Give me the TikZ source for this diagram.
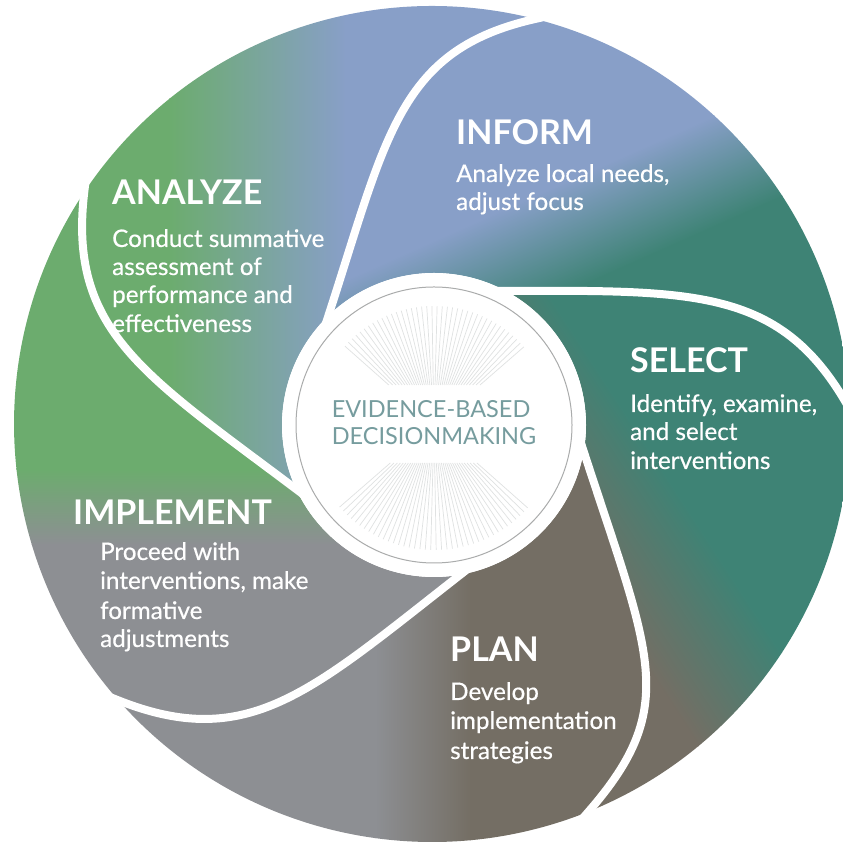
\documentclass[tikz,border=0pt]{standalone}
\usepackage{fontspec}
\setmainfont{Lato}
\newfontfamily\bodyfont{Lato}[FakeBold=0.5]
\usetikzlibrary{calc}
\definecolor{cGreen}{RGB}{108,172,110}
\definecolor{cBlue}{RGB}{136,159,200}
\definecolor{cTeal}{RGB}{62,131,117}
\definecolor{cBrown}{RGB}{116,110,100}
\definecolor{cGrey}{RGB}{141,143,147}
\definecolor{cText}{RGB}{118,156,158}
\definecolor{cRay}{RGB}{224,226,226}
\definecolor{cRing}{RGB}{170,172,172}
\tikzset{
  head/.style={anchor=base west, inner sep=0pt, text=white, font=\fontsize{34}{34}\selectfont\bfseries},
  body/.style={anchor=base west, inner sep=0pt, text=white, font=\bodyfont\fontsize{24.2}{28}\selectfont},
  ctr/.style={anchor=base, inner sep=0pt, text=cText, font=\fontsize{23.5}{27}\selectfont},
  sep/.style={draw=white, line width=8pt},
  ray/.style={draw=cRay, line width=0.7pt}
}
\begin{document}
\begin{tikzpicture}[x=1pt,y=1pt]
\useasboundingbox (0,0) rectangle (843,842);
\coordinate (Ci) at (434,417);
\coordinate (Co) at (432,418);
\foreach \k/\s/\e/\la in {1/134/75.7/190, 2/62/2/190, 3/-10/-68/215, 4/-80/-138.6/190, 5/205/146.3/190}{
  \coordinate (S\k) at ($(Ci)+(\s:152)$);
  \coordinate (S0\k) at ($(S\k)+({\s-62+180}:12)$);
  \coordinate (A\k) at ($(S\k)+({\s-62}:\la)$);
  \coordinate (E\k) at ($(Co)+(\e:418)$);
  \coordinate (EE\k) at ($(E\k)+({\e-63}:14)$);
  \coordinate (B\k) at ($(E\k)+({\e+117}:140)$);
}
\def\pANALYZE{(S5) .. controls (A5) and (B5) .. (E5) arc[start angle=146.3, end angle=75.7, radius=418] .. controls (B1) and (A1) .. (S1) arc[start angle=134, end angle=205, radius=152] -- cycle}
\def\pINFORM{(S1) .. controls (A1) and (B1) .. (E1) arc[start angle=75.7, end angle=2, radius=418] .. controls (B2) and (A2) .. (S2) arc[start angle=62, end angle=134, radius=152] -- cycle}
\def\pSELECT{(S2) .. controls (A2) and (B2) .. (E2) arc[start angle=2, end angle=-68, radius=418] .. controls (B3) and (A3) .. (S3) arc[start angle=-10, end angle=62, radius=152] -- cycle}
\def\pPLAN{(S3) .. controls (A3) and (B3) .. (E3) arc[start angle=-68, end angle=-138.6, radius=418] .. controls (B4) and (A4) .. (S4) arc[start angle=-80, end angle=-10, radius=152] -- cycle}
\def\pIMPL{(S4) .. controls (A4) and (B4) .. (E4) arc[start angle=-138.6, end angle=-213.7, radius=418] .. controls (B5) and (A5) .. (S5) arc[start angle=205, end angle=280, radius=152] -- cycle}

% ANALYZE petal
\begin{scope}
  \clip \pANALYZE;
  \fill[cGreen] (0,0) rectangle (170,842);
  \shade[left color=cGreen, right color=cBlue] (169,0) rectangle (346,842);
  \fill[cBlue] (345,0) rectangle (843,842);
\end{scope}
% INFORM petal
\begin{scope}
  \clip \pINFORM;
  \begin{scope}[transform canvas={shift={(660,647)}, rotate=24}]
    \fill[cTeal] (-1200,-1200) rectangle (1200,-50);
    \shade[bottom color=cTeal, top color=cBlue] (-1200,-51) rectangle (1200,51);
    \fill[cBlue] (-1200,50) rectangle (1200,1200);
  \end{scope}
\end{scope}
% SELECT petal
\begin{scope}
  \clip \pSELECT;
  \begin{scope}[transform canvas={shift={(695,212)}, rotate=-57}]
    \fill[cBrown] (-1200,-1200) rectangle (1200,-60);
    \shade[bottom color=cBrown, top color=cTeal] (-1200,-61) rectangle (1200,61);
    \fill[cTeal] (-1200,60) rectangle (1200,1200);
  \end{scope}
\end{scope}
% PLAN petal
\begin{scope}
  \clip \pPLAN;
  \fill[cGrey] (0,0) rectangle (376,842);
  \shade[left color=cGrey, right color=cBrown] (375,0) rectangle (471,842);
  \fill[cBrown] (470,0) rectangle (843,842);
\end{scope}
% IMPLEMENT petal
\begin{scope}
  \clip \pIMPL;
  \fill[cGrey] (0,0) rectangle (843,298);
  \shade[bottom color=cGrey, top color=cGreen] (0,297) rectangle (843,373);
  \fill[cGreen] (0,372) rectangle (843,842);
\end{scope}

% white separators
\foreach \k in {1,...,5}{
  \path[sep] (S0\k) -- (S\k) .. controls (A\k) and (B\k) .. (E\k) -- (EE\k);
}
% centre
\fill[white] (Ci) circle (152);
\draw[cRing, line width=1pt] (Ci) circle (138);
\foreach \a in {41,43.5,...,139.5}{
  \path[ray] ($(Ci)+(\a:{40/sin(\a)})$) -- ($(Ci)+(\a:119)$);
}
\foreach \a in {221,223.5,...,319.5}{
  \path[ray] ($(Ci)+(\a:{-38/sin(\a)})$) -- ($(Ci)+(\a:125)$);
}
\node[ctr] (c1) at (431,424) {EVIDENCE-BASED};
\node[ctr] (c2) at (434,397) {DECISIONMAKING};

% texts
\node[head] (hA) at (112,637) {ANALYZE};
\node[body] (bA1) at (112,595) {Conduct summative};
\node[body] (bA2) at (112,567) {assessment of};
\node[body] (bA3) at (112,539) {performance and};
\node[body] (bA4) at (112,510) {effectiveness};

\node[head] (hI) at (456,697) {INFORM};
\node[body] (bI1) at (456,660) {Analyze local needs,};
\node[body] (bI2) at (456,632) {adjust focus};

\node[head] (hS) at (630,469) {SELECT};
\node[body] (bS1) at (630,430) {Identify, examine,};
\node[body] (bS2) at (630,402) {and select};
\node[body] (bS3) at (630,373) {interventions};

\node[head] (hP) at (450,180) {PLAN};
\node[body] (bP1) at (450,142) {Develop};
\node[body] (bP2) at (450,113) {implementation};
\node[body] (bP3) at (450,83) {strategies};

\node[head] (hM) at (73,317) {IMPLEMENT};
\node[body] (bM1) at (100,282) {Proceed with};
\node[body] (bM2) at (100,253) {interventions, make};
\node[body] (bM3) at (100,223) {formative};
\node[body] (bM4) at (100,195) {adjustments};
\end{tikzpicture}
\end{document}
